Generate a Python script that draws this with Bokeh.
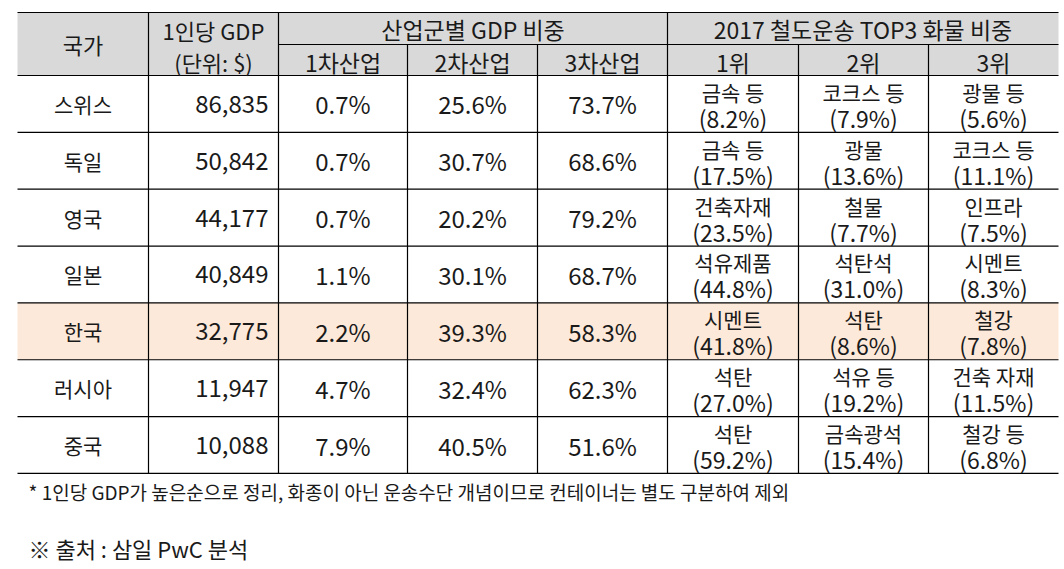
from bokeh.plotting import figure
from bokeh.models import Range1d, ColumnDataSource
from bokeh.core.properties import value
from bokeh.embed import file_html
from bokeh.resources import INLINE

# ---------------- data ----------------
countries = ["스위스", "독일", "영국", "일본", "한국", "러시아", "중국"]
gdp_per_capita = [86835, 50842, 44177, 40849, 32775, 11947, 10088]
primary_share = [0.7, 0.7, 0.7, 1.1, 2.2, 4.7, 7.9]
secondary_share = [25.6, 30.7, 20.2, 30.1, 39.3, 32.4, 40.5]
tertiary_share = [73.7, 68.6, 79.2, 68.7, 58.3, 62.3, 51.6]
rank1_item = ["금속 등", "금속 등", "건축자재", "석유제품", "시멘트", "석탄", "석탄"]
rank1_share = [8.2, 17.5, 23.5, 44.8, 41.8, 27.0, 59.2]
rank2_item = ["코크스 등", "광물", "철물", "석탄석", "석탄", "석유 등", "금속광석"]
rank2_share = [7.9, 13.6, 7.7, 31.0, 8.6, 19.2, 15.4]
rank3_item = ["광물 등", "코크스 등", "인프라", "시멘트", "철강", "건축 자재", "철강 등"]
rank3_share = [5.6, 11.1, 7.5, 8.3, 7.8, 11.5, 6.8]
highlight_country = "한국"

header_top = ["국가", "산업군별 GDP 비중", "2017 철도운송 TOP3 화물 비중"]
header_gdp = ["1인당 GDP", "(단위: $)"]
header_sub = ["1차산업", "2차산업", "3차산업", "1위", "2위", "3위"]
footnote = "* 1인당 GDP가 높은순으로 정리, 화종이 아닌 운송수단 개념이므로 컨테이너는 별도 구분하여 제외"
source_note = "※ 출처 : 삼일 PwC 분석"

# ---------------- layout ----------------
FONT = value("Noto Sans CJK KR")
col_edges = [17, 148, 278, 407, 537, 667, 798, 928, 1058]
y_top, y_h1, y_h2 = 12, 44, 75
row_h = 56.85
n = len(countries)
row_edges = [y_h2 + i * row_h for i in range(n + 1)]
row_mid = [(row_edges[i] + row_edges[i + 1]) / 2 for i in range(n)]
col_mid = [(col_edges[i] + col_edges[i + 1]) / 2 for i in range(len(col_edges) - 1)]

W, H = 1064, 569
p = figure(width=W, height=H, output_backend="svg", toolbar_location=None,
           x_range=Range1d(0, W), y_range=Range1d(H, 0),
           min_border=0, min_border_left=0, min_border_right=0,
           min_border_top=0, min_border_bottom=0)
p.axis.visible = False
p.grid.visible = False
p.outline_line_color = None
p.background_fill_color = "white"
p.border_fill_color = "white"

# fills
p.quad(left=[col_edges[0]], right=[col_edges[-1]], top=[y_top], bottom=[y_h2],
       fill_color="#d9d9d9", line_color=None)
hi = countries.index(highlight_country)
p.quad(left=[col_edges[0]], right=[col_edges[-1]], top=[row_edges[hi]], bottom=[row_edges[hi + 1]],
       fill_color="#fde9d9", line_color=None)

# lines
x0s, y0s, x1s, y1s = [], [], [], []
for y in [y_top, y_h2] + row_edges[1:]:
    x0s.append(col_edges[0]); x1s.append(col_edges[-1]); y0s.append(y); y1s.append(y)
x0s.append(col_edges[2]); x1s.append(col_edges[-1]); y0s.append(y_h1); y1s.append(y_h1)
for x in [col_edges[1], col_edges[2], col_edges[5]]:
    x0s.append(x); x1s.append(x); y0s.append(y_top); y1s.append(row_edges[-1])
for x in [col_edges[3], col_edges[4], col_edges[6], col_edges[7]]:
    x0s.append(x); x1s.append(x); y0s.append(y_h1); y1s.append(row_edges[-1])
p.segment(x0=x0s, y0=y0s, x1=x1s, y1=y1s, line_color="#000000", line_width=1.2)

TC = "#1a1a1a"

def txt(xs, ys, texts, align="center", size="21px"):
    src = ColumnDataSource(dict(x=xs, y=ys, t=texts))
    p.text(x="x", y="y", text="t", source=src, text_font=FONT, text_font_size=size,
           text_align=align, text_baseline="middle", text_color=TC)

# header
txt([col_mid[0]], [(y_top + y_h2) / 2], [header_top[0]], size="22px")
txt([col_mid[1], col_mid[1]], [29, 61], header_gdp, size="22px")
txt([(col_edges[2] + col_edges[5]) / 2, (col_edges[5] + col_edges[8]) / 2], [28, 28], header_top[1:], size="23px")
txt(col_mid[2:], [61] * 6, header_sub, size="23px")

# body
txt([col_mid[0]] * n, row_mid, countries, size="21px")
txt([col_edges[2] - 10] * n, row_mid, [f"{v:,}" for v in gdp_per_capita], align="right", size="24px")
for ci, arr in zip([2, 3, 4], [primary_share, secondary_share, tertiary_share]):
    txt([col_mid[ci]] * n, row_mid, [f"{v:.1f}%" for v in arr], size="24px")
for ci, items, shares in zip([5, 6, 7], [rank1_item, rank2_item, rank3_item],
                             [rank1_share, rank2_share, rank3_share]):
    txt([col_mid[ci]] * n, [m - 12 for m in row_mid], items, size="21px")
    txt([col_mid[ci]] * n, [m + 14 for m in row_mid], [f"({v:.1f}%)" for v in shares], size="23px")

# notes
txt([28], [491], [footnote], align="left", size="19px")
txt([28], [547], [source_note], align="left", size="22px")

open("out.html", "w").write(file_html(p, INLINE))
